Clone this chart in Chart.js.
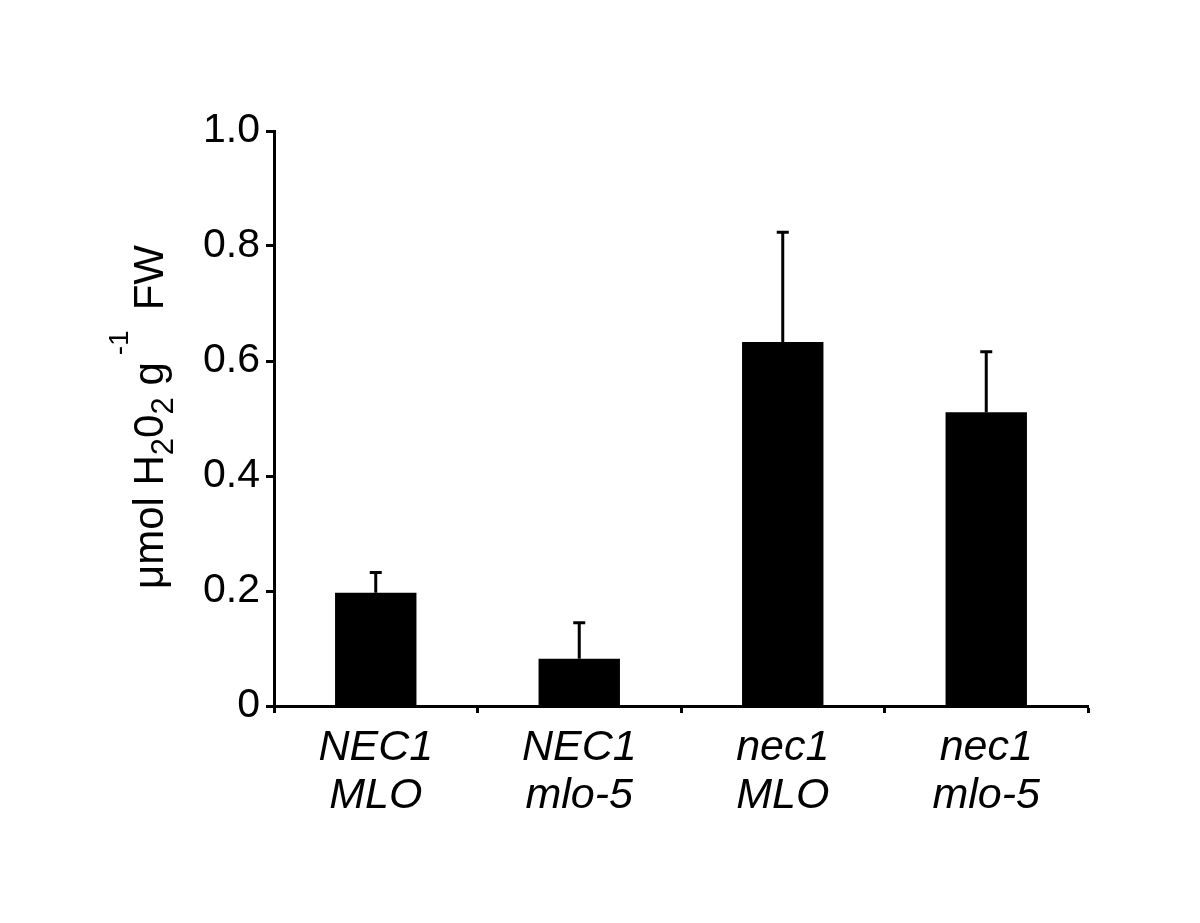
<!DOCTYPE html>
<html>
<head>
<meta charset="utf-8">
<script src="https://cdn.jsdelivr.net/npm/chart.js@4"></script>
<style>
html,body{margin:0;padding:0;background:#fff;}
canvas{display:block;}
</style>
</head>
<body>
<canvas id="c" width="1200" height="923"></canvas>
<script>
const categories = [["NEC1","MLO"],["NEC1","mlo-5"],["nec1","MLO"],["nec1","mlo-5"]];
const means = [0.197, 0.082, 0.633, 0.511];
const errors = [0.035, 0.063, 0.191, 0.105];
const yTicks = [0, 0.2, 0.4, 0.6, 0.8, 1.0];

const FONT = "'Liberation Sans', Arial, sans-serif";

const errorBarPlugin = {
  id: 'errorBars',
  afterDatasetsDraw(chart) {
    const ctx = chart.ctx;
    const meta = chart.getDatasetMeta(0);
    const y = chart.scales.y;
    ctx.save();
    ctx.strokeStyle = '#000';
    ctx.lineWidth = 3;
    meta.data.forEach((bar, i) => {
      const yTop = y.getPixelForValue(means[i] + errors[i]);
      const yBase = y.getPixelForValue(means[i]);
      ctx.beginPath();
      ctx.moveTo(bar.x, yBase);
      ctx.lineTo(bar.x, yTop);
      ctx.moveTo(bar.x - 6, yTop);
      ctx.lineTo(bar.x + 6, yTop);
      ctx.stroke();
    });
    ctx.restore();
  }
};

const yTitlePlugin = {
  id: 'yTitle',
  afterDraw(chart) {
    const ctx = chart.ctx;
    ctx.save();
    ctx.translate(163, 589);
    ctx.rotate(-Math.PI / 2);
    ctx.fillStyle = '#000';
    ctx.textBaseline = 'alphabetic';
    ctx.textAlign = 'left';
    const big = '42px ' + FONT;
    const sub = '31px ' + FONT;
    const sup = '28px ' + FONT;
    const parts = [
      {t: '\u03bcmol H', f: big, dy: 0, gap: 0},
      {t: '2', f: sub, dy: 10, gap: 0},
      {t: '0', f: big, dy: 0, gap: 0},
      {t: '2', f: sub, dy: 10, gap: 0},
      {t: ' g', f: big, dy: 0, gap: 7},
      {t: '-1', f: sup, dy: -35, gap: 20},
      {t: 'FW', f: big, dy: 0, gap: 0}
    ];
    let x = 0;
    parts.forEach(p => {
      ctx.font = p.f;
      ctx.fillText(p.t, x, p.dy);
      x += ctx.measureText(p.t).width + p.gap;
    });
    ctx.restore();
  }
};

new Chart(document.getElementById('c'), {
  type: 'bar',
  data: {
    labels: categories,
    datasets: [{
      data: means,
      backgroundColor: '#000',
      borderWidth: 0,
      barPercentage: 0.4,
      categoryPercentage: 1.0
    }]
  },
  options: {
    responsive: false,
    animation: false,
    devicePixelRatio: 1,
    layout: { padding: { top: 131, right: 112, left: 0, bottom: 0 } },
    plugins: { legend: { display: false }, tooltip: { enabled: false }, title: { display: false } },
    scales: {
      x: {
        offset: true,
        grid: { display: true, drawOnChartArea: false, drawTicks: true, tickLength: 7, tickWidth: 3, tickColor: '#000', offset: true },
        border: { display: true, color: '#000', width: 3 },
        ticks: { color: '#000', padding: 11, maxRotation: 0, autoSkip: false,
          font: { family: FONT, size: 43, style: 'italic', lineHeight: 1.12 } },
        afterFit(scale) { scale.height = 217; }
      },
      y: {
        min: 0, max: 1.0,
        afterBuildTicks(scale) { scale.ticks = yTicks.map(v => ({ value: v })); },
        grid: { display: true, drawOnChartArea: false, drawTicks: true, tickLength: 8, tickWidth: 3, tickColor: '#000' },
        border: { display: true, color: '#000', width: 3 },
        ticks: { color: '#000', padding: 6,
          font: { family: FONT, size: 41 },
          callback(v) { return v === 0 ? '0' : v.toFixed(1); } },
        afterFit(scale) { scale.width = 274; }
      }
    }
  },
  plugins: [errorBarPlugin, yTitlePlugin]
});
</script>
</body>
</html>
